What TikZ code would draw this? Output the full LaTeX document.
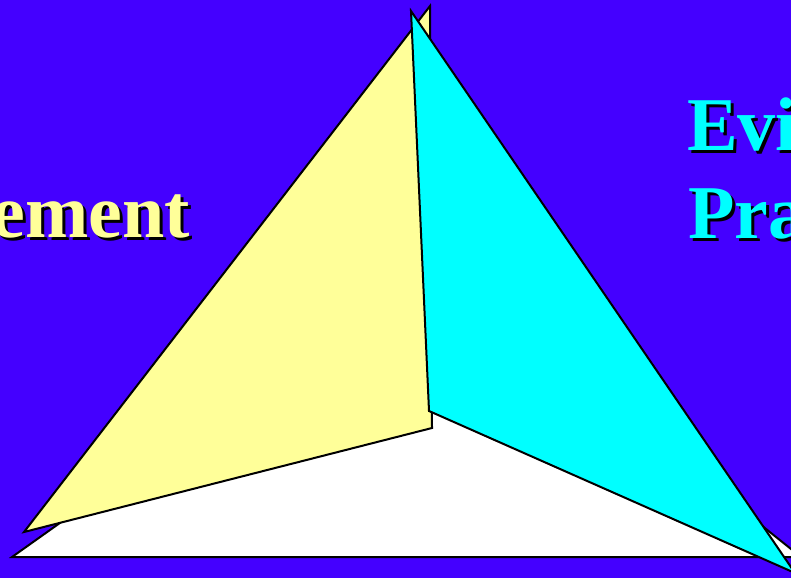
\documentclass[tikz,border=0pt]{standalone}
\usepackage{fontspec}
\setmainfont{Liberation Serif}
\definecolor{bgblue}{RGB}{68,0,255}
\definecolor{paleyellow}{RGB}{255,255,153}
\definecolor{cyanface}{RGB}{0,255,255}
\tikzset{
  face/.style={draw=black, line width=2pt, line join=miter},
  bigtext/.style={font=\fontsize{76}{76}\selectfont\bfseries, inner sep=0pt, outer sep=0pt},
}
\begin{document}
\begin{tikzpicture}[x=1pt,y=-1pt]
\useasboundingbox (0,0) rectangle (791,578);
\clip (0,0) rectangle (791,578);
\fill[bgblue] (0,0) rectangle (791,578);
% faces
\filldraw[face, fill=white] (12,557) -- (801,557) -- (430,260) -- cycle;
\filldraw[face, fill=paleyellow] (24,532) -- (430,6) -- (432,428) -- cycle;
\filldraw[face, fill=cyanface] (411,11) -- (429,411) -- (795,573) -- cycle;
% texts with shadow
\node[bigtext, text=black, anchor=base east] (mgmtS) at (193,240) {ement};
\node[bigtext, text=paleyellow, anchor=base east] (mgmt) at (190,237) {ement};
\node[bigtext, text=black, anchor=base west] (eviS) at (690,153) {Evi};
\node[bigtext, text=cyanface, anchor=base west] (evi) at (687,150) {Evi};
\node[bigtext, text=black, anchor=base west] (praS) at (691,241) {Pra};
\node[bigtext, text=cyanface, anchor=base west] (pra) at (688,238) {Pra};
\end{tikzpicture}
\end{document}
